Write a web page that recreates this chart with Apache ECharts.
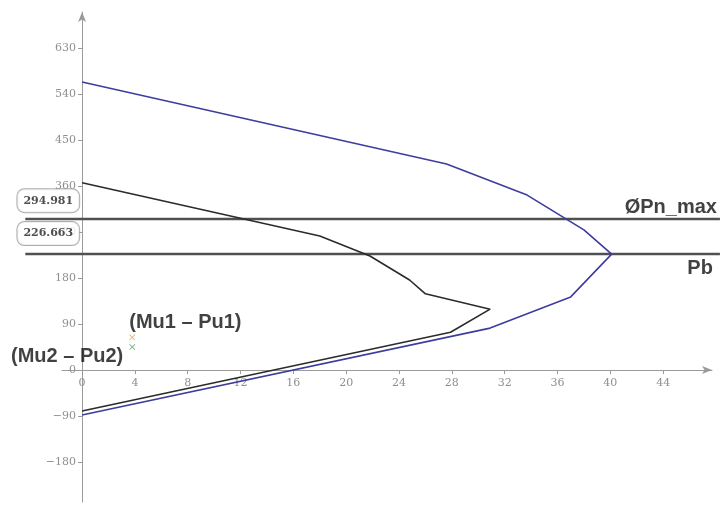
<!DOCTYPE html>
<html>
<head>
<meta charset="utf-8">
<script src="https://cdn.jsdelivr.net/npm/echarts@6/dist/echarts.min.js"></script>
<style>html,body{margin:0;padding:0;background:#fff}#c{width:720px;height:505px}</style>
</head>
<body>
<div id="c"></div>
<script>
// Interaction diagram data (M, P)
const mNominal = [0, 27.6, 33.7, 38.0, 40.1, 37.0, 30.9, 0];
const pNominal = [563, 403, 342, 274, 226.663, 143, 82, -88];
const mDesign = [0, 18.0, 21.8, 24.8, 26.0, 30.9, 27.9, 0];
const pDesign = [366, 262, 223, 176, 149, 119, 74, -80];
const pnMax = 294.981;
const pb = 226.663;
const lineSpan = [-4.3, 48.3];
const mu1 = [3.8, 64];
const mu2 = [3.8, 45];
const xTicks = [0, 4, 8, 12, 16, 20, 24, 28, 32, 36, 40, 44];
const yTicks = [-180, -90, 0, 90, 180, 270, 360, 450, 540, 630];

const xMin = -1.52, xMax = 47.7, yMin = -258, yMax = 700;
const G = { left: 62, top: 12, width: 650, height: 490 };
// shift axes onto the zero lines (style offsets, computed from the grid)
const yAxisOffset = -G.width * (0 - xMin) / (xMax - xMin);
const xAxisOffset = -G.height * (0 - yMin) / (yMax - yMin);

const zip = (a, b) => a.map((v, i) => [v, b[i]]);
const fmt = v => String(v).replace('-', '\u2212');
const crossPath = 'path://M0,1L1,0L5,4L9,0L10,1L6,5L10,9L9,10L5,6L1,10L0,9L4,5Z';
const axisColor = '#9a9a9a';
const tickFont = { color: '#8f8f8f', fontFamily: 'DejaVu Serif', fontSize: 11 };
const boldLabel = { color: '#111', fontFamily: 'Liberation Sans', fontWeight: 'bold', fontSize: 20 };
const boxLabel = {
  show: true, color: '#222', fontFamily: 'DejaVu Serif', fontWeight: 'bold', fontSize: 11,
  backgroundColor: '#fff', borderColor: '#9a9a9a', borderWidth: 1, borderRadius: 7,
  padding: [6, 6, 6, 6], position: 'top', align: 'center'
};

const chart = echarts.init(document.getElementById('c'), null, { renderer: 'canvas' });
chart.setOption({
  animation: false,
  backgroundColor: '#fff',
  grid: { left: G.left, top: G.top, width: G.width, height: G.height, containLabel: false, outerBoundsMode: 'none' },
  xAxis: {
    type: 'value', min: xMin, max: xMax, position: 'bottom', offset: xAxisOffset,
    splitLine: { show: false },
    axisLine: { onZero: false, lineStyle: { color: axisColor, width: 1 }, symbol: ['none', 'arrow'], symbolSize: [6, 10] },
    axisTick: { show: true, length: 4, customValues: xTicks, lineStyle: { color: axisColor } },
    axisLabel: Object.assign({ customValues: xTicks, formatter: fmt, margin: 8 }, tickFont)
  },
  yAxis: {
    type: 'value', min: yMin, max: yMax, position: 'left', offset: yAxisOffset,
    splitLine: { show: false },
    axisLine: { onZero: false, lineStyle: { color: axisColor, width: 1 }, symbol: ['none', 'arrow'], symbolSize: [6, 10] },
    axisTick: { show: true, length: 4, customValues: yTicks, lineStyle: { color: axisColor } },
    axisLabel: Object.assign({ customValues: yTicks, formatter: fmt, margin: 6 }, tickFont)
  },
  series: [
    { type: 'line', data: zip(mNominal, pNominal), symbol: 'none', lineStyle: { color: '#3d3d9e', width: 1.6 }, z: 3 },
    { type: 'line', data: zip(mDesign, pDesign), symbol: 'none', lineStyle: { color: '#2b2b2b', width: 1.6 }, z: 3 },
    {
      type: 'lines', coordinateSystem: 'cartesian2d', clip: false, z: 2, silent: true,
      lineStyle: { color: '#505050', width: 2.4, opacity: 1 },
      data: [pnMax, pb].map(p => ({ coords: lineSpan.map(x => [x, p]) }))
    },
    {
      type: 'scatter', symbol: crossPath, symbolSize: 6, z: 5,
      data: [
        { value: mu1, itemStyle: { color: '#e9a23b' },
          label: Object.assign({ show: true, formatter: '(Mu1 \u2013 Pu1)', position: 'right', offset: [-11, -15] }, boldLabel) },
        { value: mu2, itemStyle: { color: '#3a9a58' },
          label: Object.assign({ show: true, formatter: '(Mu2 \u2013 Pu2)', position: 'left', offset: [-1, 9] }, boldLabel) }
      ]
    },
    {
      type: 'scatter', symbolSize: 0, clip: false, z: 6, silent: true,
      itemStyle: { color: 'rgba(0,0,0,0)' },
      data: [
        { value: [lineSpan[0], pnMax], label: Object.assign({}, boxLabel, { formatter: String(pnMax), offset: [23, -2] }) },
        { value: [lineSpan[0], pb], label: Object.assign({}, boxLabel, { formatter: String(pb), offset: [23, -4] }) },
        { value: [lineSpan[1], pnMax], label: Object.assign({ show: true, formatter: '\u00D8Pn_max', position: 'top', align: 'right', offset: [-3, 3] }, boldLabel) },
        { value: [lineSpan[1], pb], label: Object.assign({ show: true, formatter: 'Pb', position: 'bottom', align: 'right', offset: [-7, -1] }, boldLabel) }
      ]
    }
  ]
});
</script>
</body>
</html>
